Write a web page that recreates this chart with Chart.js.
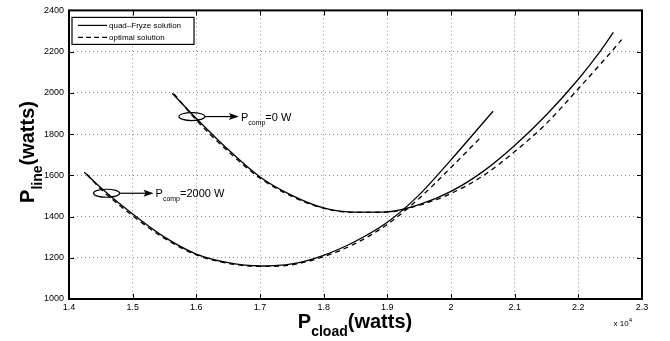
<!DOCTYPE html>
<html>
<head>
<meta charset="utf-8">
<script src="https://cdn.jsdelivr.net/npm/chart.js@4.4.1/dist/chart.umd.min.js"></script>
<style>
  html, body { margin: 0; padding: 0; background: #fff; }
</style>
</head>
<body>
<canvas id="chart" width="670" height="341"></canvas>
<script>
// P_cload in units of 1e4 W, P_line in W
var quadX0 = [1.562, 1.6, 1.65, 1.7, 1.75, 1.8, 1.85, 1.9, 1.95, 2.0, 2.05, 2.1, 2.15, 2.2, 2.234, 2.255];
var quadY0 = [1998, 1876, 1725, 1592, 1503, 1442, 1421, 1423, 1458, 1522, 1618, 1745, 1894, 2066, 2200, 2293];
var optX0 = [1.565, 1.6, 1.65, 1.7, 1.75, 1.8, 1.85, 1.9, 1.95, 2.0, 2.05, 2.1, 2.15, 2.2, 2.25, 2.268];
var optY0 = [1995, 1868, 1716, 1586, 1498, 1440, 1420, 1422, 1455, 1512, 1597, 1715, 1852, 2020, 2193, 2258];

var quadX2000 = [1.424, 1.45, 1.5, 1.55, 1.6, 1.65, 1.7, 1.75, 1.8, 1.85, 1.9, 1.95, 2.0, 2.066];
var quadY2000 = [1615, 1540, 1412, 1300, 1218, 1176, 1160, 1170, 1212, 1280, 1372, 1505, 1675, 1911];
var optX2000 = [1.428, 1.45, 1.5, 1.55, 1.6, 1.65, 1.7, 1.75, 1.8, 1.85, 1.9, 1.95, 2.0, 2.047];
var optY2000 = [1605, 1533, 1404, 1294, 1214, 1173, 1158, 1166, 1205, 1270, 1362, 1488, 1638, 1785];

var legendLabels = ['quad\u2013Fryze solution', 'optimal solution'];

function pts(xs, ys) {
  return xs.map(function (x, i) { return { x: x, y: ys[i] }; });
}

var FONT = '"Liberation Sans", Arial, Helvetica, sans-serif';

function lineSet(xs, ys, dashed) {
  return {
    data: pts(xs, ys),
    borderColor: '#000',
    borderWidth: 1.3,
    borderDash: dashed ? [5, 4] : [],
    pointRadius: 0,
    fill: false,
    cubicInterpolationMode: 'monotone'
  };
}

// draws text made of pieces, some of them sub/superscript
function drawPieces(ctx, x, y, pieces, align) {
  var total = 0;
  pieces.forEach(function (p) { ctx.font = p.font; p.w = ctx.measureText(p.t).width; total += p.w; });
  var cx = align === 'center' ? x - total / 2 : (align === 'right' ? x - total : x);
  ctx.textAlign = 'left';
  ctx.textBaseline = 'alphabetic';
  pieces.forEach(function (p) {
    ctx.font = p.font;
    ctx.fillText(p.t, cx, y + (p.dy || 0));
    cx += p.w;
  });
}

function callout(ctx, xs, ys, dataX, dataY, rest) {
  var cx = xs.getPixelForValue(dataX);
  var cy = ys.getPixelForValue(dataY);
  ctx.save();
  ctx.strokeStyle = '#000';
  ctx.fillStyle = '#000';
  ctx.lineWidth = 1.2;
  ctx.beginPath();
  ctx.ellipse(cx, cy, 13, 4, 0, 0, Math.PI * 2);
  ctx.stroke();
  ctx.beginPath();
  ctx.moveTo(cx + 13, cy);
  ctx.lineTo(cx + 40, cy);
  ctx.stroke();
  ctx.beginPath();
  ctx.moveTo(cx + 47, cy);
  ctx.lineTo(cx + 37, cy - 3.5);
  ctx.lineTo(cx + 39, cy);
  ctx.lineTo(cx + 37, cy + 3.5);
  ctx.closePath();
  ctx.fill();
  drawPieces(ctx, cx + 49, cy + 4, [
    { t: 'P', font: '11px ' + FONT },
    { t: 'comp', font: '7px ' + FONT, dy: 4 },
    { t: rest, font: '11px ' + FONT }
  ], 'left');
  ctx.restore();
}

var decorations = {
  id: 'decorations',
  afterDatasetsDraw: function (chart) {
    var ctx = chart.ctx;
    var a = chart.chartArea;
    var xs = chart.scales.x;
    var ys = chart.scales.y;
    ctx.save();
    ctx.strokeStyle = '#000';
    ctx.fillStyle = '#000';

    // inward ticks on all four sides
    ctx.lineWidth = 1;
    xs.ticks.forEach(function (t) {
      var px = Math.round(xs.getPixelForValue(t.value)) + 0.5;
      ctx.beginPath();
      ctx.moveTo(px, a.bottom); ctx.lineTo(px, a.bottom - 5);
      ctx.moveTo(px, a.top); ctx.lineTo(px, a.top + 5);
      ctx.stroke();
    });
    ys.ticks.forEach(function (t) {
      var py = Math.round(ys.getPixelForValue(t.value)) + 0.5;
      ctx.beginPath();
      ctx.moveTo(a.left, py); ctx.lineTo(a.left + 5, py);
      ctx.moveTo(a.right, py); ctx.lineTo(a.right - 5, py);
      ctx.stroke();
    });

    // box
    ctx.lineWidth = 2;
    ctx.strokeRect(a.left, a.top, a.right - a.left, a.bottom - a.top);

    // legend
    var lx = a.left + 3, ly = a.top + 7;
    ctx.fillStyle = '#fff';
    ctx.fillRect(lx, ly, 122, 27);
    ctx.lineWidth = 1.2;
    ctx.strokeRect(lx, ly, 122, 27);
    ctx.fillStyle = '#000';
    ctx.font = '8px ' + FONT;
    ctx.textBaseline = 'middle';
    ctx.textAlign = 'left';
    [0, 1].forEach(function (i) {
      var yy = ly + 8 + i * 12;
      ctx.setLineDash(i === 0 ? [] : [5, 3]);
      ctx.beginPath();
      ctx.moveTo(lx + 6, yy); ctx.lineTo(lx + 35, yy);
      ctx.stroke();
      ctx.setLineDash([]);
      ctx.fillText(legendLabels[i], lx + 37, yy);
    });

    // callouts
    callout(ctx, xs, ys, 1.593, 1885, '=0 W');
    callout(ctx, xs, ys, 1.459, 1513, '=2000 W');

    // axis titles
    drawPieces(ctx, 355, 328, [
      { t: 'P', font: 'bold 20px ' + FONT },
      { t: 'cload', font: 'bold 14px ' + FONT, dy: 8 },
      { t: '(watts)', font: 'bold 20px ' + FONT }
    ], 'center');
    ctx.save();
    ctx.translate(34, 152);
    ctx.rotate(-Math.PI / 2);
    drawPieces(ctx, 0, 0, [
      { t: 'P', font: 'bold 20px ' + FONT },
      { t: 'line', font: 'bold 14px ' + FONT, dy: 8 },
      { t: '(watts)', font: 'bold 20px ' + FONT }
    ], 'center');
    ctx.restore();

    // exponent label
    drawPieces(ctx, 632, 326, [
      { t: 'x 10', font: '8px ' + FONT },
      { t: '4', font: '6px ' + FONT, dy: -4 }
    ], 'right');
    ctx.restore();
  }
};

new Chart(document.getElementById('chart'), {
  type: 'line',
  data: {
    datasets: [
      lineSet(quadX0, quadY0, false),
      lineSet(optX0, optY0, true),
      lineSet(quadX2000, quadY2000, false),
      lineSet(optX2000, optY2000, true)
    ]
  },
  options: {
    responsive: false,
    devicePixelRatio: 1,
    animation: false,
    layout: { padding: { top: 7, right: 28, bottom: 0, left: 0 } },
    plugins: { legend: { display: false }, tooltip: { enabled: false } },
    scales: {
      x: {
        type: 'linear',
        min: 1.4,
        max: 2.3,
        afterFit: function (s) { s.height = 42; },
        ticks: {
          stepSize: 0.1,
          padding: 3,
          color: '#000',
          font: { family: FONT, size: 9 },
          maxRotation: 0,
          callback: function (v) { return String(Math.round(v * 10) / 10); }
        },
        grid: { color: '#8a8a8a', drawTicks: false, lineWidth: 1 },
        border: { display: false, dash: [1, 3] }
      },
      y: {
        type: 'linear',
        min: 1000,
        max: 2400,
        afterFit: function (s) { s.width = 69; },
        ticks: {
          stepSize: 200,
          padding: 5,
          color: '#000',
          font: { family: FONT, size: 9 },
          callback: function (v) { return String(v); }
        },
        grid: { color: '#8a8a8a', drawTicks: false, lineWidth: 1 },
        border: { display: false, dash: [1, 3] }
      }
    }
  },
  plugins: [decorations]
});
</script>
</body>
</html>
